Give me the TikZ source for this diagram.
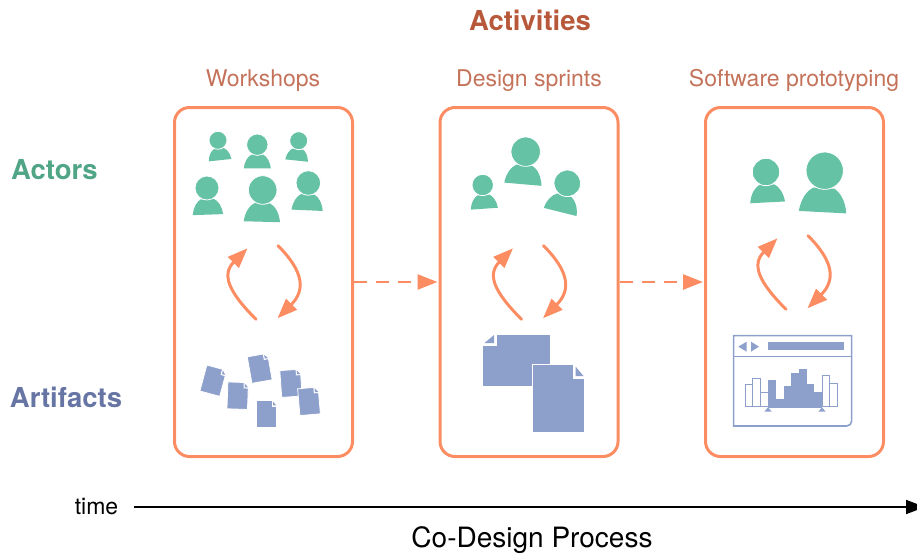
\documentclass[tikz,border=0pt]{standalone}
\usepackage{fontspec}
\setmainfont{TeX Gyre Heros}
\usetikzlibrary{arrows.meta}
\usetikzlibrary{positioning}
\definecolor{orange}{HTML}{FC8D62}
\definecolor{green}{HTML}{66C2A5}
\definecolor{blue}{HTML}{8DA0CB}
\definecolor{activity}{HTML}{B8583A}
\definecolor{activityname}{HTML}{C4735A}
\definecolor{actor}{HTML}{4FA585}
\definecolor{artifact}{HTML}{6675A3}
\tikzset{
  box/.style={draw=orange,line width=3pt,rounded corners=15pt,minimum width=178pt,minimum height=349pt,inner sep=0pt},
  loop/.style={draw=orange,line width=3pt,line cap=round,-{Triangle[width=15pt,length=20pt]}},
  next/.style={draw=orange,line width=2.5pt,dash pattern=on 13pt off 9pt,shorten >=1pt,-{Triangle[width=15pt,length=20pt]}},
  heading/.style={font=\fontsize{27.5}{28}\selectfont\bfseries,inner sep=0pt,anchor=base},
  title/.style={font=\fontsize{23}{24}\selectfont,inner sep=0pt,anchor=base},
}
\newcommand{\personicon}{
  \fill [green] (-1.27,2.22) .. controls (-1.2,1.6) and (-0.9,1.1) .. (-0.55,0.93)
    -- (0.55,0.93) .. controls (0.9,1.1) and (1.2,1.6) .. (1.27,2.22) -- cycle;
  \fill [green,draw=white,line width=0.8pt] (0,0) circle (1);
}
\newcommand{\docicon}{
  \fill [blue,draw=white,line width=0.8pt] (-26,-34) -- (15,-34) -- (15,-20) -- (26,-20) -- (26,34) -- (-26,34) -- cycle;
  \fill [blue] (17,-31.5) -- (17,-22) -- (25,-22) -- cycle;
}
\begin{document}
\begin{tikzpicture}[x=1pt,y=-1pt]
    \useasboundingbox (0,0) rectangle (917,554);

    \node (activities) at (530,30.7) [heading,text=activity] {Activities};
    \node (workshops) at (263,86) [title,text=activityname] {Workshops};
    \node (sprints) at (529,86) [title,text=activityname] {Design sprints};
    \node (prototyping) at (794,86) [title,text=activityname] {Software prototyping};
    \node (actors) at (54.5,179.5) [heading,text=actor] {Actors};
    \node (artifacts) at (66,407) [heading,text=artifact] {Artifacts};

    \node (box1) at (263.5,282) [box] {};
    \node (box2) at (529,282) [box] {};
    \node (box3) at (794.5,282) [box] {};
    \draw [next] (box1) to (box2);
    \draw [next] (box2) to (box3);

    % actors
    \foreach \x/\y/\s/\a in {218/140.3/9/6, 257.3/144.7/10.7/0, 298.7/140.7/9/-6,
        207/188/12/2, 262.7/190/14.3/-1.5, 308.3/183/12.3/-2.5,
        525.7/151.7/14.7/-5, 482.7/185/10.7/4, 567.3/183.3/13.3/-14,
        766/172/13.7/3, 824.7/170.7/18.7/-3} {
      \begin{scope}[shift={(\x,\y)},rotate=\a,scale=\s]
        \personicon
      \end{scope}
    }

    % feedback loops
    \foreach \n/\x/\y in {a/0/0, b/265.5/0, c/530/-10} {
      \coordinate (\n1) at (256+\x,319.3+\y);
      \coordinate (\n2) at (247.5+\x,248.3+\y);
      \coordinate (\n3) at (278+\x,245.7+\y);
      \coordinate (\n4) at (277.5+\x,318.3+\y);
      \draw [loop] (\n1) .. controls +(-28,-28) and +(-26,26) .. (\n2);
      \draw [loop] (\n3) .. controls +(26,26) and +(28,-28) .. (\n4);
    }

    % artifacts, box 1
    \foreach \x/\y/\a in {213.3/380.7/-15, 237.7/395.7/-2, 259.7/368.3/10,
        291/383.3/4, 309/401.3/5, 266.3/414/0} {
      \begin{scope}[shift={(\x,\y)},rotate=\a,scale=0.395]
        \docicon
      \end{scope}
    }

    % artifacts, box 2
    \begin{scope}[shift={(516,360)},rotate=90]
      \docicon
    \end{scope}
    \begin{scope}[shift={(558.5,398)}]
      \docicon
    \end{scope}

    % artifacts, box 3
    \begin{scope}[shift={(725,325)},scale=1/3,blue,line width=1.6pt]
      \draw (380,285) [rounded corners=5pt] -- (380,303) -- (300,303) [sharp corners] -- (26,303) -- (26,32) -- (380,32) -- cycle;
      \draw (26,95) -- (380,95);
      \fill (40,65) -- (65,50) -- (65,80) -- cycle;
      \fill (102,65) -- (78,50) -- (78,80) -- cycle;
      \fill (128,52) rectangle (358,76);
      \foreach \l/\r/\t in {60/82/177, 83/107/160, 107/129/203, 291/314/150, 314/338/175}
        \draw [line width=1pt] (\l,245) rectangle (\r,\t);
      \foreach \l/\r/\t in {129/153/165, 153/177/222, 177/198/183, 198/222/145, 222/246/132, 246/268/177, 268/291/202}
        \fill (\l,248) rectangle (\r,\t);
      \fill (118,260) -- (140,260) -- (129,247) -- cycle;
      \fill (280,260) -- (302,260) -- (291,247) -- cycle;
    \end{scope}

    \node (time) at (96.5,514) [title] {time};
    \coordinate (end) at (925,507);
    \draw [line width=1.8pt,-{Triangle[width=14pt,length=19pt]}] (134,507) to (end);
    \node (process) at (532,547.5) [title,font=\fontsize{28}{28}\selectfont] {Co-Design Process};
  \end{tikzpicture}
\end{document}
